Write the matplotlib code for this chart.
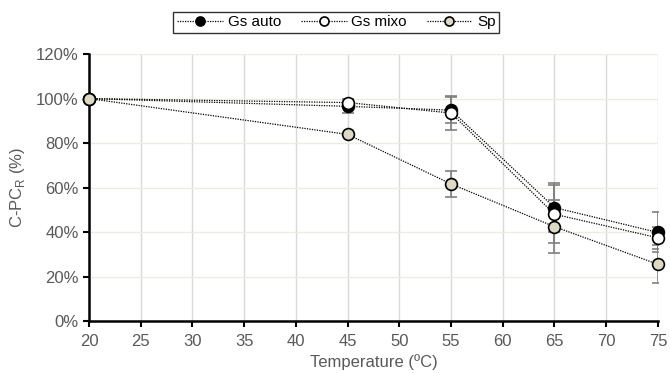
import matplotlib
matplotlib.use("Agg")
import matplotlib.pyplot as plt
from matplotlib.ticker import PercentFormatter

temps = [20, 45, 55, 65, 75]
gs_auto = [100, 96.5, 94.8, 51, 39.8]
gs_auto_err = [0, 3, 6, 11, 9]
gs_mixo = [100, 98.2, 93.5, 48, 37.4]
gs_mixo_err = [0, 1.5, 7.5, 13, 5]
sp = [100, 83.9, 61.6, 42.4, 25.5]
sp_err = [0, 0, 6, 12, 8.5]

plt.rcParams["font.family"] = ["Liberation Sans", "DejaVu Sans"]

fig = plt.figure(figsize=(6.7, 3.73), dpi=100)
ax = fig.add_axes([0.1328, 0.1394, 0.8492, 0.7156])

series = [
    ("Gs auto", gs_auto, gs_auto_err, "black"),
    ("Gs mixo", gs_mixo, gs_mixo_err, "white"),
    ("Sp", sp, sp_err, "#ddd9c4"),
]
for name, vals, err, face in series:
    ax.errorbar(temps, vals, yerr=err, fmt="none", ecolor="#7f7f7f", elinewidth=1.2,
                capsize=4, capthick=1.2, zorder=2)
    ax.plot(temps, vals, linestyle=(0, (1, 1)), color="black", linewidth=0.9,
            marker="o", markersize=8.5, markerfacecolor=face, markeredgecolor="black",
            markeredgewidth=1.2, label=name, zorder=3, clip_on=False)

ax.set_xlim(20, 75)
ax.set_ylim(0, 120)
ax.set_xticks(range(20, 76, 5))
ax.set_yticks(range(0, 121, 20))
ax.yaxis.set_major_formatter(PercentFormatter(decimals=0))
ax.xaxis.grid(True, color="#d9d9d9", linewidth=1)
ax.yaxis.grid(True, color="#eeece1", linewidth=1)
ax.set_axisbelow(True)

for s in ["top", "right"]:
    ax.spines[s].set_visible(False)
for s in ["left", "bottom"]:
    ax.spines[s].set_linewidth(1.8)
    ax.spines[s].set_color("black")
ax.tick_params(direction="out", length=4, width=1.5, colors="black",
               labelcolor="#595959", labelsize=12)
ax.tick_params(axis="x", pad=5)

ax.set_xlabel("Temperature (ºC)", fontsize=12, color="#595959", labelpad=4)
ax.set_ylabel("C-PC$_\\mathregular{R}$ (%)", fontsize=12, color="#595959", labelpad=6)

leg = fig.legend(loc="center", bbox_to_anchor=(0.502, 0.94), ncol=3, fontsize=11,
                 frameon=True, fancybox=False, edgecolor="black", handlelength=3.0,
                 handletextpad=0.3, columnspacing=1.3, borderpad=0.25)
leg.get_frame().set_linewidth(1.0)
for h in leg.legend_handles:
    h.set_markersize(6.5)

fig.savefig("out.png", dpi=100)
